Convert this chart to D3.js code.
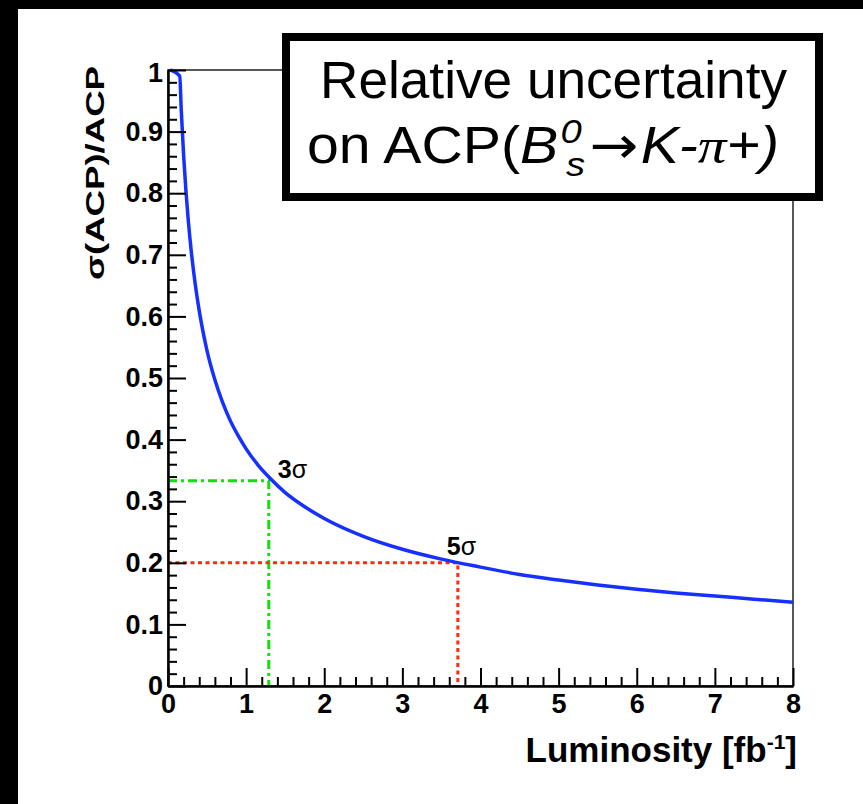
<!DOCTYPE html>
<html>
<head>
<meta charset="utf-8">
<script src="https://cdn.jsdelivr.net/npm/d3@7"></script>
<style>
  body { margin: 0; background: #fff; }
  text { font-family: "Liberation Sans", Arial, Helvetica, sans-serif; }
</style>
</head>
<body>
<svg id="chart" width="863" height="804"></svg>
<script>
// curve: luminosity [fb-1] vs relative uncertainty
const lumi = [0.03, 0.15, 0.17, 0.2, 0.23, 0.26, 0.3, 0.35, 0.4, 0.45, 0.5, 0.6, 0.7, 0.8, 0.9,
  1.0, 1.15, 1.3, 1.5, 1.75, 2.0, 2.5, 3.0, 3.5, 4.0, 4.5, 5.0, 5.5, 6.0, 6.5, 7.0, 7.5, 8.0];
const relUnc = [1.0, 0.99, 0.934, 0.861, 0.803, 0.755, 0.703, 0.651, 0.609, 0.574, 0.544, 0.497, 0.46, 0.43, 0.406,
  0.385, 0.359, 0.338, 0.314, 0.291, 0.272, 0.243, 0.222, 0.206, 0.193, 0.181, 0.172, 0.164, 0.157, 0.151, 0.146, 0.141, 0.136];

// significance markers
const sigmaNames = ["3", "5"];
const sigmaLumi = [1.29, 3.71];
const sigmaValue = [0.333, 0.2];

const xTicks = [0, 1, 2, 3, 4, 5, 6, 7, 8];
const yTicks = [0, 0.1, 0.2, 0.3, 0.4, 0.5, 0.6, 0.7, 0.8, 0.9, 1];
const yTickLabels = ["0", "0.1", "0.2", "0.3", "0.4", "0.5", "0.6", "0.7", "0.8", "0.9", "1"];

const svg = d3.select("#chart");

// black border strips of the original slide
svg.append("rect").attr("x", 0).attr("y", 0).attr("width", 863).attr("height", 9).attr("fill", "#000");
svg.append("rect").attr("x", 0).attr("y", 0).attr("width", 18).attr("height", 804).attr("fill", "#000");

const x = d3.scaleLinear().domain([0, 8]).range([168, 793]);
const y = d3.scaleLinear().domain([0, 1]).range([686, 70]);

// frame
svg.append("rect")
  .attr("x", x(0)).attr("y", y(1))
  .attr("width", x(8) - x(0)).attr("height", y(0) - y(1))
  .attr("fill", "none").attr("stroke", "#222").attr("stroke-width", 1.5);

/////////////////////////////////////////////////////////
// reference lines

const marks = sigmaNames.map((d, i) => ({ name: d, l: sigmaLumi[i], v: sigmaValue[i] }));
const markColor = ["#10e010", "#ff2a10"];
const markDash = ["9,4,3,4", "4,3.5"];

marks.forEach((m, i) => {
  svg.append("path")
    .attr("d", `M${x(0)},${y(m.v)}H${x(m.l)}V${y(0)}`)
    .attr("fill", "none")
    .attr("stroke", markColor[i])
    .attr("stroke-width", 3)
    .attr("stroke-dasharray", markDash[i]);
});

// curve
const line = d3.line()
  .x((d, i) => x(lumi[i]))
  .y((d) => y(d))
  .curve(d3.curveMonotoneX);

svg.append("path")
  .attr("d", line(relUnc))
  .attr("fill", "none")
  .attr("stroke", "#1530ff")
  .attr("stroke-width", 3.5);

/////////////////////////////////////////////////////////
// axes

const yMinor = d3.range(0, 1.0001, 0.02).filter(v => Math.round(v * 50) % 5 !== 0);
const xMinor = d3.range(0, 8.0001, 0.2).filter(v => Math.round(v * 5) % 5 !== 0);

const styleAxis = (g) => {
  g.attr("font-family", null).attr("font-size", null);
  g.selectAll("line").attr("stroke", "#000").attr("stroke-width", 2);
  g.select(".domain").attr("stroke", "#000").attr("stroke-width", 2);
  g.selectAll("text")
    .attr("fill", "#000")
    .style("font-size", "27px")
    .style("font-weight", "bold");
};

svg.append("g")
  .attr("transform", `translate(${x(0)},0)`)
  .call(d3.axisLeft(y).tickValues(yMinor).tickSizeInner(-9).tickSizeOuter(0).tickFormat(""))
  .call(styleAxis);

svg.append("g")
  .attr("transform", `translate(0,${y(0)})`)
  .call(d3.axisBottom(x).tickValues(xMinor).tickSizeInner(-9).tickSizeOuter(0).tickFormat(""))
  .call(styleAxis);

const yAxis = svg.append("g")
  .attr("transform", `translate(${x(0)},0)`)
  .call(d3.axisLeft(y).tickValues(yTicks).tickSizeInner(-18).tickSizeOuter(0).tickPadding(5)
    .tickFormat((d, i) => yTickLabels[i]))
  .call(styleAxis);

// top label sits a little lower in the original
yAxis.selectAll(".tick text").filter(d => d === 1).attr("y", 3);

svg.append("g")
  .attr("transform", `translate(0,${y(0)})`)
  .call(d3.axisBottom(x).tickValues(xTicks).tickSizeInner(-18).tickSizeOuter(0).tickPadding(8))
  .call(styleAxis);

// axis titles
const xTitle = svg.append("text")
  .attr("x", 797).attr("y", 762)
  .attr("text-anchor", "end")
  .style("font-size", "35px").style("font-weight", "bold");
xTitle.append("tspan").text("Luminosity [fb");
xTitle.append("tspan").attr("dy", -13).style("font-size", "21px").text("-1");
xTitle.append("tspan").attr("dy", 13).text("]");

svg.append("text")
  .attr("transform", `translate(104,${y(1) - 4}) rotate(-90)`)
  .attr("text-anchor", "end")
  .attr("textLength", 214)
  .attr("lengthAdjust", "spacingAndGlyphs")
  .style("font-size", "26px").style("font-weight", "bold")
  .text("σ(ACP)/ACP");

// sigma labels
marks.forEach((m, i) => {
  const t = svg.append("text")
    .attr("x", x(m.l) + (i === 0 ? 9 : -11))
    .attr("y", y(m.v) + (i === 0 ? -3 : -8))
    .style("font-size", "25px");
  t.append("tspan").style("font-weight", "bold").text(m.name);
  t.append("tspan").text("σ");
});

/////////////////////////////////////////////////////////
// title box

svg.append("rect")
  .attr("x", 286).attr("y", 37)
  .attr("width", 533).attr("height", 160)
  .attr("fill", "#fff").attr("stroke", "#000").attr("stroke-width", 8);

svg.append("text")
  .attr("x", 320).attr("y", 98)
  .attr("textLength", 467)
  .attr("lengthAdjust", "spacingAndGlyphs")
  .style("font-size", "51px")
  .text("Relative uncertainty");

const t2 = svg.append("text")
  .attr("x", 307).attr("y", 163)
  .attr("textLength", 472)
  .attr("lengthAdjust", "spacingAndGlyphs")
  .style("font-size", "51px");
t2.append("tspan").text("on ACP(");
t2.append("tspan").style("font-style", "italic").text("B");
t2.append("tspan").attr("dy", -20).attr("dx", 2).style("font-style", "italic").style("font-size", "34px").text("0");
t2.append("tspan").attr("dy", 33).attr("dx", -14).style("font-style", "italic").style("font-size", "34px").text("s");
t2.append("tspan").attr("dy", -13).attr("dx", 4)
  .style("font-family", "'DejaVu Sans', sans-serif").style("font-size", "52px").text("→");
t2.append("tspan").attr("dx", 2).style("font-style", "italic").text("K-");
t2.append("tspan").style("font-family", "'Liberation Serif', serif").style("font-style", "italic").text("π");
t2.append("tspan").style("font-style", "italic").text("+)");
</script>
</body>
</html>
